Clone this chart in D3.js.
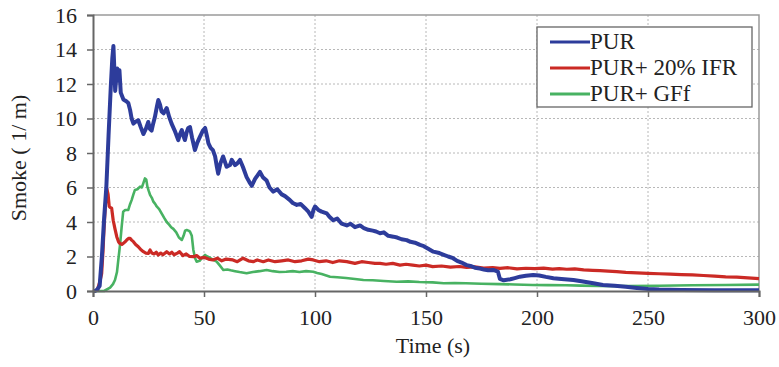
<!DOCTYPE html>
<html>
<head>
<meta charset="utf-8">
<script src="https://cdn.jsdelivr.net/npm/d3@7"></script>
<style>
  body { margin: 0; background: #fff; }
  svg text { font-family: "Liberation Serif", Tinos, "DejaVu Serif", serif; fill: #222; }
</style>
</head>
<body>
<div id="chart"></div>
<script>
// time (s) and smoke (1/m)
var purTime = [0,1,2,3,4,5,6,7,8,8.7,9.2,9.6,10,10.5,10.9,11.5,11.9,12.5,13.7,15,15.9,16.7,17.4,18.2,19,20.4,21.5,22.7,23.8,24.9,25.6,26.4,27.1,27.9,28.8,29.4,30.2,30.9,31.8,33.2,34.3,35.4,36.8,38.4,39.2,40,40.7,41.4,42.2,42.9,43.7,44.6,45.9,47,48.2,49.5,50.5,51.3,52,53,54,55,55.8,56.4,57.4,58.6,59.4,60.2,61.7,62.5,64,65,66.2,67.5,69.2,70.5,71.5,73,75.2,76.5,78.2,79.5,81.2,83,85,86.5,88.7,90,91.8,93.5,95.5,97,98.5,99.3,100,101.5,103,105.3,106.5,108.2,110,112,114.3,116,118,120.3,122,124,126,127.5,129.3,131,133,135.3,137,139,141.3,143,145,147.3,149,151,153.3,156,158,160,162.2,164,166,168.3,170,172,174.3,176,178,180.3,182.4,183.3,185,188,190,192.3,195,198.3,201,204,207.4,211,216.4,220,225.4,229.7,235,240,245,250,255,265,280,300];
var purValues = [0,0,0.1,0.3,2.0,4.2,6.0,9.0,11.8,13.5,14.2,12.9,11.6,12.4,12.9,12.2,12.8,11.5,11.1,11.0,10.9,10.5,10.0,9.7,9.8,9.9,9.5,9.1,9.4,9.8,9.4,9.3,9.7,10.1,10.7,11.07,10.8,10.4,10.3,10.6,10.1,9.7,9.3,8.75,9.1,9.33,9.0,8.75,9.2,9.45,9.5,8.9,8.17,8.6,8.95,9.3,9.45,9.0,8.56,8.3,8.17,7.8,7.2,6.8,7.4,7.8,7.5,7.2,7.3,7.6,7.3,7.4,7.6,7.2,6.6,6.3,6.1,6.5,6.9,6.6,6.4,6.0,5.76,5.9,5.6,5.5,5.27,5.1,4.99,5.05,4.8,4.6,4.3,4.7,4.9,4.7,4.6,4.5,4.3,4.1,4.2,3.9,3.8,3.9,3.7,3.8,3.65,3.55,3.5,3.45,3.35,3.4,3.2,3.15,3.1,3.0,2.95,2.85,2.8,2.67,2.6,2.45,2.28,2.2,2.1,2.0,1.9,1.75,1.65,1.5,1.45,1.35,1.3,1.25,1.2,1.22,1.12,0.7,0.62,0.68,0.75,0.83,0.88,0.93,0.9,0.82,0.74,0.7,0.64,0.56,0.45,0.35,0.3,0.25,0.18,0.12,0.08,0.06,0.05,0.05];

var ifrTime = [0,2,2.4,3.2,3.9,4.5,5,5.6,6.2,6.8,7.3,7.7,8.4,9.1,9.9,10.7,11.5,12.2,13,13.7,14.5,15.2,16,16.7,17.4,18.2,19.2,20.4,21.5,22.7,23.8,24.9,25.7,26.5,27.5,28.5,29.4,30.5,31.5,33.2,34.5,35.5,36.5,38,39,40.5,42,43.5,45.2,46.7,48.2,50,52,54,56,58,60,63,65,67.6,70,72.2,74,76.7,79,82,85,88,91,94,97,99.2,102,105,108,111,114.3,118,121,124,127,129.3,132,135,138.3,141,144,147,150,153,157,161,165,168.3,172,176,180,183.3,187,191,195,199,203,207,210,213.4,217,221,225,228.4,232,235.9,240,245,250,255,260,265,270,275,280,285,290,295,300];
var ifrValues = [0,0.05,0.25,0.6,1.0,2.3,3.7,5.0,5.95,5.6,4.9,4.85,4.8,4.1,3.6,3.15,2.85,2.75,2.7,2.77,2.85,2.96,3.05,3.05,2.95,2.86,2.7,2.57,2.4,2.28,2.2,2.18,2.38,2.2,2.15,2.25,2.09,2.2,2.1,2.28,2.15,2.25,2.1,2.2,2.28,2.05,2.15,2.0,1.99,2.05,1.9,1.95,1.85,1.8,1.9,1.75,1.85,1.8,1.7,1.9,1.75,1.7,1.8,1.7,1.8,1.7,1.75,1.8,1.7,1.75,1.85,1.8,1.7,1.75,1.65,1.75,1.7,1.6,1.7,1.65,1.6,1.6,1.55,1.6,1.5,1.55,1.5,1.45,1.5,1.41,1.45,1.38,1.42,1.37,1.4,1.33,1.36,1.31,1.35,1.28,1.32,1.3,1.33,1.27,1.3,1.26,1.28,1.22,1.2,1.18,1.15,1.12,1.08,1.05,1.02,1.0,0.98,0.95,0.93,0.9,0.86,0.82,0.8,0.76,0.72];

var gffTime = [0,5,7.7,9,9.9,10.8,11.4,12.2,12.9,13.6,14.5,15.9,16.6,17.4,18.2,18.9,20,21.2,22,22.8,23.4,24,24.5,25.1,25.7,26.5,27.2,28,28.7,29.8,30.9,32,33.2,34.3,35.2,36.2,37.5,38.7,40,40.8,41.5,42.2,43,43.7,44.5,45.2,46,46.7,48,49.3,50.5,51.5,53,54.2,55.7,57,58.7,60.5,62,64,66,69.2,72,75,78.2,81,84,87,90,93,96,99.2,101,103,106.8,110,114,118,121.8,126,131,136.8,142,147,153,158,163,168,175,183,190,198,205,213,220,228,240,255,270,285,300];
var gffValues = [0,0,0.2,0.4,0.64,1.1,1.8,2.7,3.7,4.6,4.7,4.7,5.0,5.27,5.6,5.86,5.9,6.05,6.0,6.3,6.53,6.45,6.05,5.8,5.57,5.4,5.18,5.05,4.9,4.75,4.5,4.25,4.0,3.85,3.7,3.6,3.4,3.1,2.96,3.2,3.5,3.54,3.5,3.44,3.2,2.38,1.9,1.7,1.75,1.95,2.09,2.0,1.9,1.8,1.7,1.5,1.22,1.25,1.2,1.15,1.1,1.03,1.1,1.15,1.22,1.15,1.1,1.12,1.15,1.1,1.15,1.12,1.05,0.98,0.83,0.8,0.75,0.7,0.64,0.62,0.58,0.54,0.56,0.52,0.5,0.45,0.46,0.45,0.42,0.4,0.38,0.35,0.34,0.33,0.31,0.29,0.28,0.3,0.33,0.35,0.37];

var seriesNames = ["PUR", "PUR+ 20% IFR", "PUR+ GFf"];
var seriesColors = ["#2d3c9b", "#cb2a25", "#48b262"];
var seriesWidths = [4, 3.2, 2.6];
var xTicks = [0, 50, 100, 150, 200, 250, 300];
var yTicks = [0, 2, 4, 6, 8, 10, 12, 14, 16];

var W = 779, H = 367;
var margin = {left: 93, top: 15, right: 20, bottom: 76};
var w = W - margin.left - margin.right;
var h = H - margin.top - margin.bottom;
var serif = "'Liberation Serif', Tinos, 'DejaVu Serif', serif";

var svg = d3.select("#chart").append("svg")
  .attr("width", W).attr("height", H);

var g = svg.append("g")
  .attr("transform", "translate(" + margin.left + "," + margin.top + ")");

var x = d3.scaleLinear().domain([0, 300]).range([0, w]);
var y = d3.scaleLinear().domain([0, 16]).range([h, 0]);

// grid
g.selectAll(".vgrid").data(xTicks.slice(1, -1)).enter().append("line")
  .attr("x1", d => x(d)).attr("x2", d => x(d))
  .attr("y1", 0).attr("y2", h)
  .attr("stroke", "#b8b8b8").attr("stroke-dasharray", "2,2");
g.selectAll(".hgrid").data(yTicks.slice(1, -1)).enter().append("line")
  .attr("x1", 0).attr("x2", w)
  .attr("y1", d => y(d)).attr("y2", d => y(d))
  .attr("stroke", "#b8b8b8").attr("stroke-dasharray", "2,2");

// top and right border
g.append("path")
  .attr("d", "M0,0H" + w + "V" + h)
  .attr("fill", "none").attr("stroke", "#9a9a9a").attr("stroke-width", 1.5);

// lines
var series = [
  {t: purTime, v: purValues},
  {t: ifrTime, v: ifrValues},
  {t: gffTime, v: gffValues}
];
var line = d3.line()
  .x(d => x(d[0]))
  .y(d => y(d[1]));

// green first, blue on top
[2, 1, 0].forEach(function(i) {
  var pts = d3.zip(series[i].t, series[i].v);
  g.append("path")
    .datum(pts)
    .attr("d", line)
    .attr("fill", "none")
    .attr("stroke", seriesColors[i])
    .attr("stroke-width", seriesWidths[i])
    .attr("stroke-linejoin", "round");
});

// axes
var xAxis = g.append("g")
  .attr("transform", "translate(0," + h + ")")
  .call(d3.axisBottom(x).tickValues(xTicks).tickSize(6).tickPadding(12));
var yAxis = g.append("g")
  .call(d3.axisLeft(y).tickValues(yTicks).tickSize(6).tickPadding(10));

[xAxis, yAxis].forEach(function(a) {
  a.attr("font-family", serif);
  a.select(".domain").attr("stroke", "#666").attr("stroke-width", 2);
  a.selectAll(".tick line").attr("stroke", "#666").attr("stroke-width", 1.5);
  a.selectAll("text")
    .attr("font-family", serif)
    .attr("font-size", 22)
    .attr("fill", "#222");
});

// axis titles
svg.append("text")
  .attr("x", 433).attr("y", 353)
  .attr("text-anchor", "middle")
  .attr("font-family", serif)
  .attr("font-size", 22)
  .text("Time (s)");
svg.append("text")
  .attr("transform", "translate(26,158) rotate(-90)")
  .attr("text-anchor", "middle")
  .attr("font-family", serif)
  .attr("font-size", 22)
  .text("Smoke ( 1/ m)");

// legend
var legend = svg.append("g").attr("transform", "translate(537,27)");
legend.append("rect")
  .attr("width", 215).attr("height", 80)
  .attr("fill", "#fff").attr("stroke", "#666").attr("stroke-width", 1.3);
seriesNames.forEach(function(name, i) {
  var row = legend.append("g").attr("transform", "translate(0," + (15 + i * 26) + ")");
  row.append("line")
    .attr("x1", 13).attr("x2", 53)
    .attr("stroke", seriesColors[i]).attr("stroke-width", 3);
  row.append("text")
    .attr("x", 53).attr("y", 7)
    .attr("font-family", serif)
    .attr("font-size", 23)
    .text(name);
});
</script>
</body>
</html>
